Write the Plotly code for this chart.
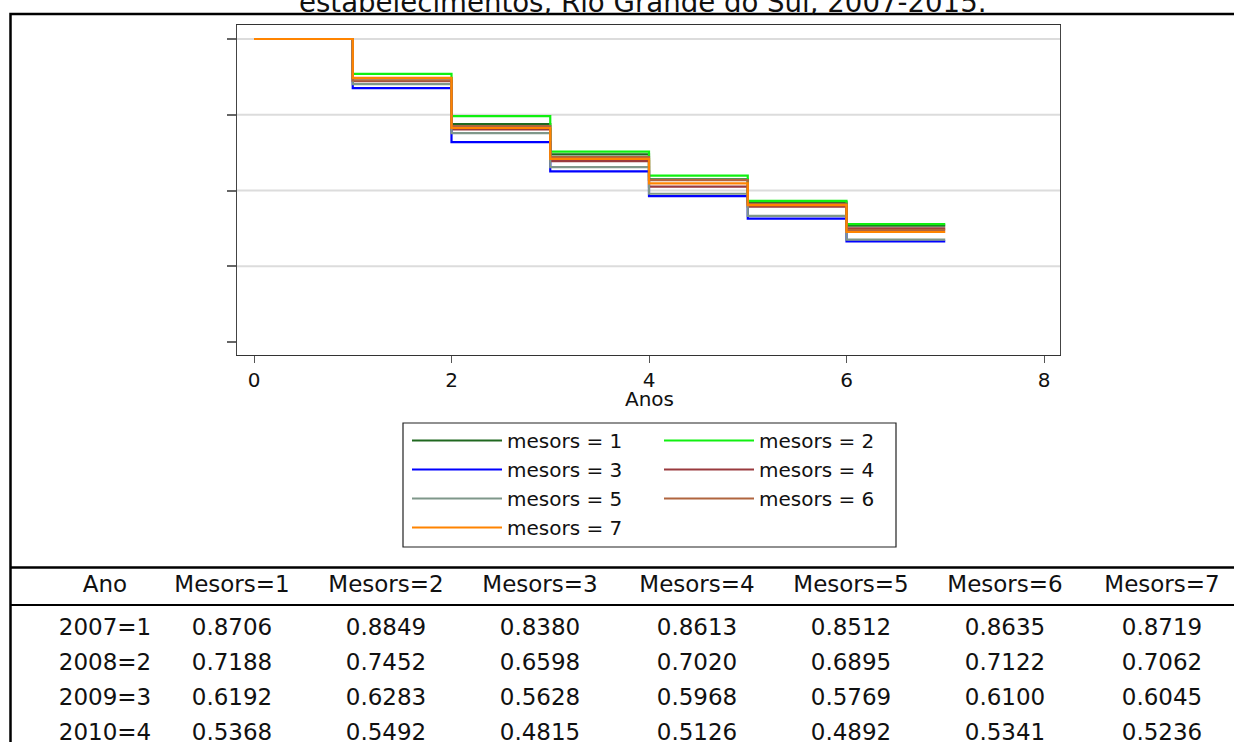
import plotly.graph_objects as go

# ---------------- data ----------------
YEARS = [0, 1, 2, 3, 4, 5, 6, 7]
M1 = [1.0, 0.8706, 0.7188, 0.6192, 0.5368, 0.461, 0.384, 0.384]
M2 = [1.0, 0.8849, 0.7452, 0.6283, 0.5492, 0.466, 0.389, 0.389]
M3 = [1.0, 0.8380, 0.6598, 0.5628, 0.4815, 0.407, 0.332, 0.332]
M4 = [1.0, 0.8613, 0.7020, 0.5968, 0.5126, 0.447, 0.375, 0.375]
M5 = [1.0, 0.8512, 0.6895, 0.5769, 0.4892, 0.416, 0.338, 0.338]
M6 = [1.0, 0.8635, 0.7122, 0.6100, 0.5341, 0.456, 0.370, 0.370]
M7 = [1.0, 0.8719, 0.7062, 0.6045, 0.5236, 0.452, 0.363, 0.363]
SERIES_NAMES = ["mesors = 1", "mesors = 2", "mesors = 3", "mesors = 4",
                "mesors = 5", "mesors = 6", "mesors = 7"]
TABLE_HEADER = ["Ano", "Mesors=1", "Mesors=2", "Mesors=3", "Mesors=4",
                "Mesors=5", "Mesors=6", "Mesors=7"]
TABLE_ROWS = ["2007=1", "2008=2", "2009=3", "2010=4"]
X_TICKS = [0, 2, 4, 6, 8]
Y_TICKS = [0, 0.25, 0.5, 0.75, 1.0]
Y_GRID = [0.25, 0.5, 0.75, 1.0]
TITLE = "estabelecimentos, Rio Grande do Sul, 2007-2015."
X_TITLE = "Anos"

SERIES = [M1, M2, M3, M4, M5, M6, M7]
COLORS = ["#206820", "#10f010", "#0000ff", "#993a3e", "#7f978a", "#b0653f", "#ff8400"]

# ---------------- geometry helpers (pixels -> paper) ----------------
W, H = 1234, 742
def px(x):
    return x / W
def py(y):
    return 1 - y / H

FONT = "DejaVu Sans"
PLOT_L, PLOT_R, PLOT_T, PLOT_B = 237, 1060, 25, 355

fig = go.Figure()

for i, (vals, name, col) in enumerate(zip(SERIES, SERIES_NAMES, COLORS)):
    fig.add_trace(go.Scatter(
        x=YEARS, y=vals, mode="lines", name=name,
        line=dict(color=col, width=2.2, shape="hv"),
        legend="legend" if i % 2 == 0 else "legend2",
        hoverinfo="skip",
    ))

# table below the graph
n_rows = len(TABLE_ROWS)
cols = [TABLE_ROWS] + [[s[k] for k in range(1, n_rows + 1)] for s in SERIES]
fig.add_trace(go.Table(
    domain=dict(x=[px(50), 1.0], y=[0.0, py(567)]),
    columnwidth=[110, 144, 164, 144, 170, 138, 170, 144],
    header=dict(values=TABLE_HEADER, align="center", height=43,
                font=dict(family=FONT, size=23, color="#111"),
                fill_color="white", line=dict(color="rgba(0,0,0,0)", width=0)),
    cells=dict(values=cols, align="center", height=35,
               format=[""] + [".4f"] * 7,
               font=dict(family=FONT, size=23, color="#111"),
               fill_color="white", line=dict(color="rgba(0,0,0,0)", width=0)),
))

x0 = (PLOT_L - 254) / 98.75
x1 = (PLOT_R - 254) / 98.75
y1 = 1 + (39 - PLOT_T) / 303
y0 = -(PLOT_B - 342) / 303

fig.update_layout(
    width=W, height=H,
    margin=dict(l=0, r=0, t=0, b=0, autoexpand=False),
    paper_bgcolor="white", plot_bgcolor="white",
    font=dict(family=FONT, color="#111"),
    xaxis=dict(domain=[px(PLOT_L), px(PLOT_R)], range=[x0, x1],
               tickvals=X_TICKS, ticks="outside", ticklen=7, tickwidth=1.2,
               tickcolor="#555", showgrid=False, zeroline=False,
               showline=True, linecolor="#333", linewidth=1.2, mirror=True,
               tickfont=dict(family=FONT, size=20, color="#111")),
    yaxis=dict(domain=[py(PLOT_B), py(PLOT_T)], range=[y0, y1],
               tickvals=Y_TICKS, ticks="outside", ticklen=9, tickwidth=1.5,
               tickcolor="#666", showticklabels=False, showgrid=False,
               zeroline=False, showline=True, linecolor="#444", linewidth=1.2,
               mirror=True),
    legend=dict(x=px(407), y=py(421), xanchor="left", yanchor="top",
                orientation="v", bgcolor="rgba(0,0,0,0)", borderwidth=0,
                itemwidth=90, tracegroupgap=0,
                font=dict(family=FONT, size=20, color="#111")),
    legend2=dict(x=px(659), y=py(421), xanchor="left", yanchor="top",
                 orientation="v", bgcolor="rgba(0,0,0,0)", borderwidth=0,
                 itemwidth=90, tracegroupgap=0,
                 font=dict(family=FONT, size=20, color="#111")),
    showlegend=True,
)

shapes = []
for g in Y_GRID:
    shapes.append(dict(type="line", xref="x domain", yref="y", x0=0, x1=1,
                       y0=g, y1=g, line=dict(color="#dcdcdc", width=2),
                       layer="below"))
# legend frame
shapes.append(dict(type="rect", xref="paper", yref="paper",
                   x0=px(403), x1=px(896), y0=py(547), y1=py(423),
                   line=dict(color="#222", width=1.2)))
# outer frame and table rules
shapes.append(dict(type="rect", xref="paper", yref="paper",
                   x0=px(10.5), x1=px(1245), y0=py(760), y1=py(14),
                   line=dict(color="black", width=2.5)))
shapes.append(dict(type="line", xref="paper", yref="paper",
                   x0=px(10.5), x1=1.0, y0=py(567.5), y1=py(567.5),
                   line=dict(color="black", width=2.5)))
shapes.append(dict(type="line", xref="paper", yref="paper",
                   x0=px(10.5), x1=1.0, y0=py(605), y1=py(605),
                   line=dict(color="black", width=2.2)))
fig.update_layout(shapes=shapes)

fig.add_annotation(text=TITLE, xref="paper", yref="paper", x=px(642), y=py(2),
                   xanchor="center", yanchor="middle", showarrow=False,
                   font=dict(family=FONT, size=27.6, color="#111"))
fig.add_annotation(text=X_TITLE, xref="x", yref="paper", x=4, y=py(399),
                   xanchor="center", yanchor="middle", showarrow=False,
                   font=dict(family=FONT, size=20, color="#111"))

fig.write_html("out.html", config={"displayModeBar": False},
               post_script="document.body.style.margin='0px';")
